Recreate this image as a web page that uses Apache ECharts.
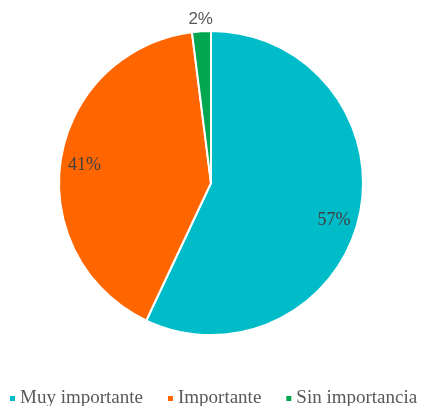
<!DOCTYPE html>
<html><head><meta charset="utf-8">
<script src="https://cdn.jsdelivr.net/npm/echarts@6/dist/echarts.min.js"></script>
<style>html,body{margin:0;padding:0;background:#fff}#c{width:423px;height:406px}</style>
</head><body><div id="c"></div>
<script>
const categories = ['Muy importante', 'Importante', 'Sin importancia'];
const values = [57, 41, 2];
const colors = ['#00BCC9', '#FF6600', '#00A650'];

const data = categories.map((n, i) => ({ name: n, value: values[i] }));
const center = [211, 183];
const labelOffsets = [[-3, 9], [1, 2], [0, 0]];
const serif = "'Liberation Serif', 'Times New Roman', serif";
const chart = echarts.init(document.getElementById('c'));
chart.setOption({
  animation: false,
  color: colors,
  legend: {
    data: categories,
    top: 389,
    left: 8,
    width: 460,
    padding: 0,
    icon: 'rect',
    itemWidth: 7,
    itemHeight: 7,
    itemGap: 23,
    textStyle: { fontFamily: serif, fontSize: 19, color: '#595959', padding: [3, 0, 0, -1] }
  },
  series: [
    {
      type: 'pie', center: center, radius: [0, 152], startAngle: 90, clockwise: true,
      data: data,
      itemStyle: { borderColor: '#fff', borderWidth: 2 },
      label: { show: false }, labelLine: { show: false }
    },
    {
      type: 'pie', center: center, radius: [0, 252], startAngle: 90, clockwise: true, silent: true,
      data: data.map((d, i) => ({ ...d, label: { show: i < 2, offset: labelOffsets[i] } })),
      itemStyle: { color: 'rgba(0,0,0,0)' },
      label: { position: 'inside', formatter: '{d}%', fontFamily: serif, fontSize: 18, color: '#404040' },
      labelLine: { show: false }
    },
    {
      type: 'pie', center: center, radius: [0, 322], startAngle: 90, clockwise: true, silent: true,
      data: data.map((d, i) => ({ ...d, label: { show: i === 2 } })),
      itemStyle: { color: 'rgba(0,0,0,0)' },
      label: { position: 'inside', formatter: '{d}%', fontFamily: 'Liberation Sans', fontSize: 17, color: '#595959' },
      labelLine: { show: false }
    }
  ]
});
</script></body></html>
